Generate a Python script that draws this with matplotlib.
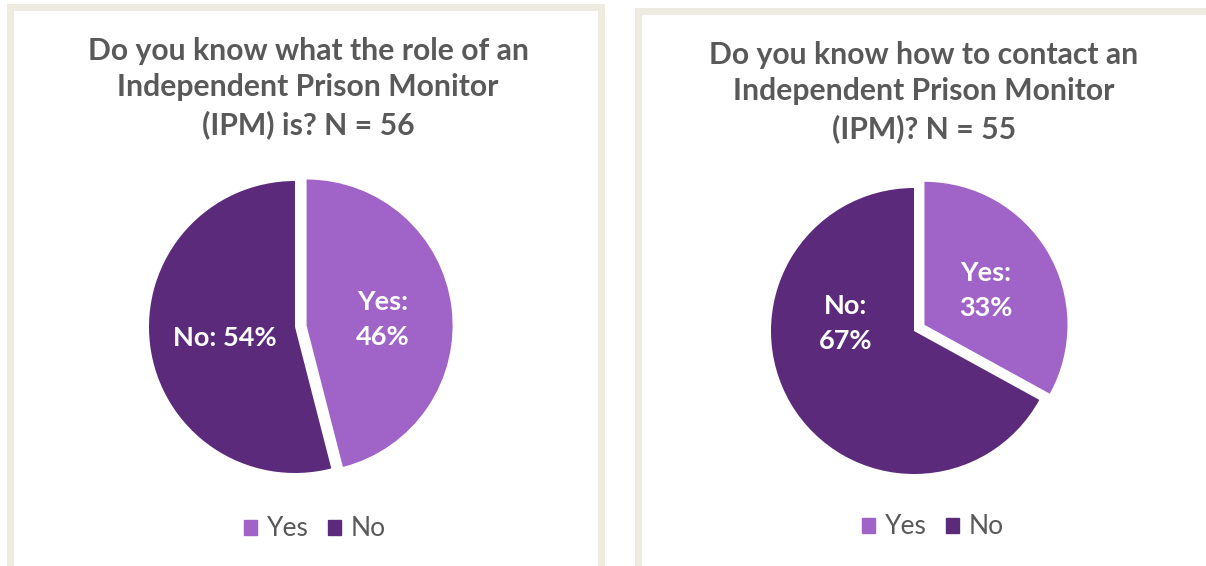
import matplotlib
matplotlib.use("Agg")
import matplotlib.pyplot as plt
from matplotlib.patches import Rectangle

W, H = 1206, 566
plt.rcParams['font.family'] = ['Lato', 'DejaVu Sans']

categories = ['Yes', 'No']
role_values = [46, 54]
contact_values = [33, 67]
role_title = 'Do you know what the role of an\nIndependent Prison Monitor\n(IPM) is? N = 56'
contact_title = 'Do you know how to contact an\nIndependent Prison Monitor\n(IPM)? N = 55'

colors = ['#A063C8', '#5B2A7B']
frame_color = '#EEEBE1'
title_color = '#595959'


def fx(x):
    return x / W


def fy(y):
    return 1 - y / H


def frame(fig, x0, y0, x1, y1):
    # stroke drawn centred on the given pixel box
    fig.patches.append(Rectangle((fx(x0), fy(y1)), fx(x1 - x0), (y1 - y0) / H,
                                 transform=fig.transFigure, fill=False,
                                 edgecolor=frame_color, linewidth=7 * 72 / 100))


def pie_panel(fig, values, title, cx, cy, r, explode, label_pos, one_line_no,
              title_x, title_y, legend_x, legend_y):
    ax = fig.add_axes([fx(cx - r), fy(cy + r), 2 * r / W, 2 * r / H])
    ax.pie(values, colors=colors, startangle=90, counterclock=False,
           explode=[explode, 0], radius=1,
           wedgeprops=dict(linewidth=0))
    ax.set_xlim(-1, 1)
    ax.set_ylim(-1, 1)
    ax.set_aspect('equal')
    ax.axis('off')
    for i, (name, v) in enumerate(zip(categories, values)):
        sep = ' ' if (name == 'No' and one_line_no) else '\n'
        ax.text(label_pos[i][0], label_pos[i][1], f'{name}:{sep}{v}%',
                ha='center', va='center', color='white', fontsize=19.5,
                fontweight='bold', linespacing=1.55)
    fig.text(fx(title_x), fy(title_y), title, ha='center', va='center',
             fontsize=21.7, fontweight='bold', color=title_color, linespacing=1.38)
    handles = [Rectangle((0, 0), 1, 1, color=c) for c in colors]
    fig.legend(handles, categories, loc='center', bbox_to_anchor=(fx(legend_x), fy(legend_y)),
               ncol=2, frameon=False, fontsize=19, handlelength=0.5, handleheight=0.5,
               handletextpad=0.35, columnspacing=0.75, labelcolor=title_color)


fig = plt.figure(figsize=(W / 100, H / 100), dpi=100)
fig.patch.set_facecolor('white')

frame(fig, 9.5, 6.5, 600.5, 580)
frame(fig, 637.5, 10.5, 1215, 569)

pie_panel(fig, role_values, role_title, 295, 327, 146, 0.08,
          [(0.60, 0.05), (-0.48, -0.075)], True, 308, 88, 315, 529)
pie_panel(fig, contact_values, contact_title, 914, 331, 143, 0.085,
          [(0.50, 0.28), (-0.48, 0.05)], False, 924, 92, 933, 527)

fig.savefig('out.png', dpi=100)
